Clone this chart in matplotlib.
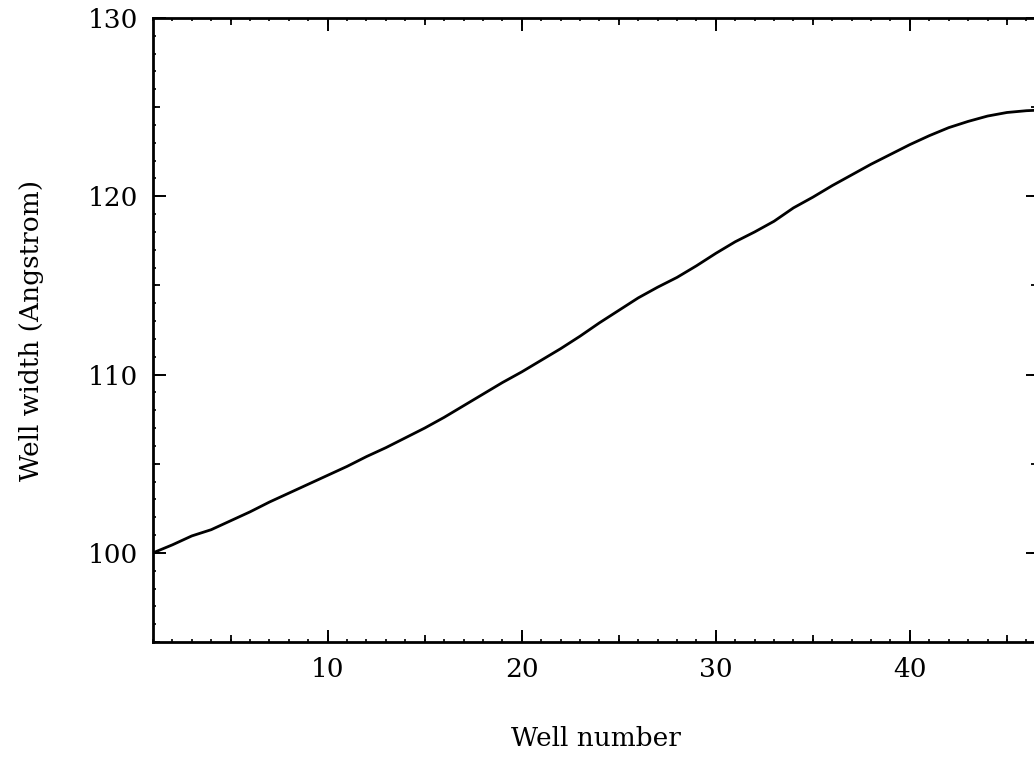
import numpy as np
import matplotlib
matplotlib.use('Agg')
import matplotlib.pyplot as plt
from matplotlib.ticker import MultipleLocator, NullFormatter

# well number vs well width
well_number = list(range(1, 48))
well_width = [100.0, 100.45, 100.95, 101.3, 101.8, 102.3, 102.85, 103.35, 103.85, 104.35,
              104.85, 105.4, 105.9, 106.45, 107.0, 107.6, 108.25, 108.9, 109.55, 110.15,
              110.8, 111.45, 112.15, 112.9, 113.6, 114.3, 114.9, 115.45, 116.1, 116.8,
              117.45, 118.0, 118.6, 119.35, 119.95, 120.6, 121.2, 121.8, 122.35, 122.9,
              123.4, 123.85, 124.2, 124.5, 124.7, 124.8, 124.85]

x_label = 'Well number'
y_label = 'Well width (Angstrom)'
xlims = [1, 46.6]
ylims = [95, 130]

plt.rcParams['font.family'] = ['DejaVu Serif']
fsize = 19

fig = plt.figure(figsize=(10.34, 7.59), dpi=100)
ax = fig.add_axes([153/1034, 1 - 642/759, (1038 - 153)/1034, (642 - 18)/759])

ax.plot(well_number, well_width, color='black', linewidth=2.0)

ax.set_xlim(xlims)
ax.set_ylim(ylims)

ax.xaxis.set_major_locator(MultipleLocator(10))
ax.xaxis.set_minor_locator(MultipleLocator(1))
ax.yaxis.set_major_locator(MultipleLocator(10))
ax.yaxis.set_minor_locator(MultipleLocator(1))

ax.tick_params(which='major', direction='in', length=9, width=1.4,
               top=True, right=True, labelsize=fsize)
ax.tick_params(which='minor', direction='in', length=2.5, width=1.2,
               top=True, right=True)
ax.tick_params(axis='x', which='major', pad=11)
ax.tick_params(axis='y', which='major', pad=11)

# medium ticks every 5 units
for loc in ['bottom', 'top']:
    sec = ax.secondary_xaxis(loc)
    sec.xaxis.set_major_locator(MultipleLocator(5))
    sec.xaxis.set_major_formatter(NullFormatter())
    sec.tick_params(direction='in', length=5, width=1.3)
    for s in sec.spines.values():
        s.set_visible(False)
for loc in ['left', 'right']:
    sec = ax.secondary_yaxis(loc)
    sec.yaxis.set_major_locator(MultipleLocator(5))
    sec.yaxis.set_major_formatter(NullFormatter())
    sec.tick_params(direction='in', length=5, width=1.3)
    for s in sec.spines.values():
        s.set_visible(False)

for s in ax.spines.values():
    s.set_linewidth(2.0)

ax.set_xlabel(x_label, fontsize=fsize)
ax.set_ylabel(y_label, fontsize=fsize)
ax.xaxis.set_label_coords(0.5, -0.135)
ax.yaxis.set_label_coords(-0.123, 0.5)

fig.savefig('out.png', dpi=100)
plt.close()
